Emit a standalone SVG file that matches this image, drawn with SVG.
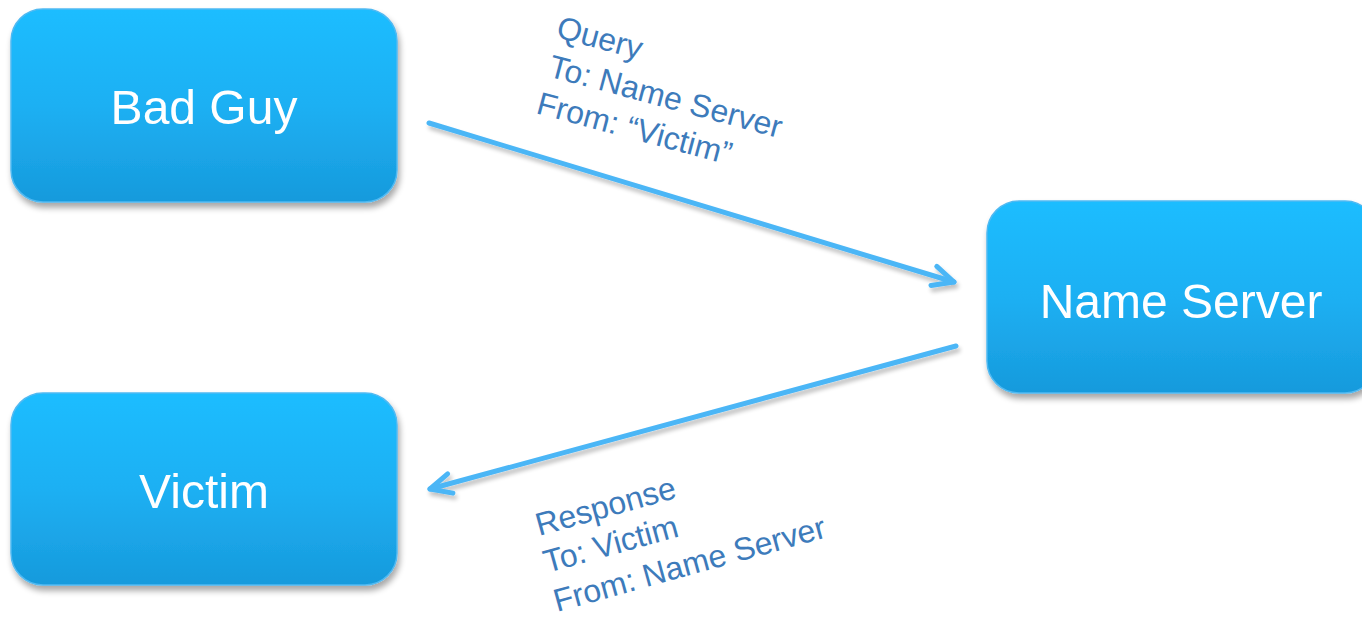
<svg xmlns="http://www.w3.org/2000/svg" width="1362" height="617" viewBox="0 0 1362 617">
<defs>
<linearGradient id="g" x1="0" y1="0" x2="0" y2="1">
<stop offset="0" stop-color="#1cbdff"/>
<stop offset="0.5" stop-color="#1fb0f3"/>
<stop offset="1" stop-color="#169adc"/>
</linearGradient>
<filter id="sh" x="-10%" y="-10%" width="120%" height="130%">
<feGaussianBlur in="SourceAlpha" stdDeviation="3"/>
<feOffset dx="2" dy="5" result="b"/>
<feComponentTransfer><feFuncA type="linear" slope="0.35"/></feComponentTransfer>
<feMerge><feMergeNode/><feMergeNode in="SourceGraphic"/></feMerge>
</filter>
<filter id="ash" x="-5%" y="-20%" width="110%" height="140%">
<feGaussianBlur in="SourceAlpha" stdDeviation="2"/>
<feOffset dx="2" dy="4"/>
<feComponentTransfer><feFuncA type="linear" slope="0.25"/></feComponentTransfer>
<feMerge><feMergeNode/><feMergeNode in="SourceGraphic"/></feMerge>
</filter>
<marker id="ah" markerUnits="userSpaceOnUse" markerWidth="40" markerHeight="40" refX="0" refY="0" viewBox="-25 -20 30 40" orient="auto" overflow="visible">
<path d="M-21,-10 L0,0 L-21,10" fill="none" stroke="#4cb6f6" stroke-width="5" stroke-linecap="round" stroke-linejoin="round"/>
</marker>
</defs>
<style>
.box{fill:url(#g);stroke:#4fb9f2;stroke-width:1.5}
.nt{font-family:"Liberation Sans",Arial,sans-serif;font-size:48px;fill:#ffffff;text-anchor:middle}
.lt{font-family:"Liberation Sans",Arial,sans-serif;font-size:32px;fill:#3d7bbb}
.con{fill:none;stroke:#4cb6f6;stroke-width:5;stroke-linecap:round;marker-end:url(#ah)}
</style>
<rect width="1362" height="617" fill="#ffffff"/>
<g id="bad-guy" filter="url(#sh)">
<rect class="box" x="11" y="9" width="386" height="193" rx="32"/>
<text class="nt" x="204" y="124">Bad Guy</text>
</g>
<g id="name-server" filter="url(#sh)">
<rect class="box" x="987" y="201" width="390" height="192" rx="32"/>
<text class="nt" x="1181" y="318">Name Server</text>
</g>
<g id="victim" filter="url(#sh)">
<rect class="box" x="11" y="393" width="386" height="192" rx="32"/>
<text class="nt" x="204" y="508">Victim</text>
</g>
<g id="connectors" filter="url(#ash)">
<line class="con" x1="429" y1="123" x2="954" y2="282"/>
<line class="con" x1="956" y1="346" x2="430" y2="489"/>
</g>
<g id="query-label">
<text class="lt" transform="translate(555,37) rotate(15)">Query</text>
<text class="lt" transform="translate(547,76) rotate(15)">To: Name Server</text>
<text class="lt" transform="translate(535,113) rotate(15)">From: “Victim”</text>
</g>
<g id="response-label">
<text class="lt" transform="translate(539,536) rotate(-15.5)">Response</text>
<text class="lt" transform="translate(547,573) rotate(-15.5)">To: Victim</text>
<text class="lt" transform="translate(557,612) rotate(-15.5)">From: Name Server</text>
</g>
</svg>
